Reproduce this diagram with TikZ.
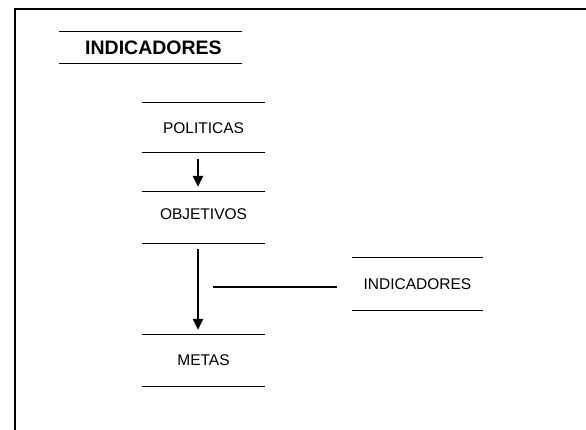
\documentclass[tikz,border=0pt]{standalone}
\usepackage{fontspec}
\setmainfont{Liberation Sans}
\usetikzlibrary{arrows.meta, positioning, calc}

\begin{document}
\begin{tikzpicture}[x=1pt, y=-1pt,
  lbl/.style={minimum width=123pt, minimum height=50pt, inner sep=0pt,
              font=\fontsize{15.5}{17}\selectfont},
  ttl/.style={lbl, minimum width=183pt, minimum height=31pt,
              font=\fontsize{19.5}{21}\selectfont\bfseries},
  rule/.style={black, line width=1.2pt},
  arr/.style={-{Triangle[length=11pt, width=10pt]}, black, line width=2.6pt}
]
\useasboundingbox (0,0) rectangle (586,430);

% frame
\draw[black, line width=2.6pt] (586,9) -- (15,9) -- (15,430);

\node[ttl] (head) at (150.5,47.5) {\hspace*{6pt}INDICADORES};
\node[lbl] (pol) at (203.5,127.7) {POLITICAS};
\node[lbl, minimum height=51pt] (obj) at (203.5,217.5) {\raisebox{7pt}{OBJETIVOS}};
\node[lbl, minimum height=51pt] (met) at (203.5,360.5) {METAS};
\node[lbl, minimum width=131pt, minimum height=52pt] (ind) at (417.5,284) {INDICADORES};

\foreach \n in {head, pol, obj, met, ind} {
  \draw[rule] (\n.north west) -- (\n.north east);
  \draw[rule] (\n.south west) -- (\n.south east);
}

\draw[arr, shorten <=6pt, shorten >=5pt] ([xshift=-5.5pt]pol.south) -- ([xshift=-5.5pt]obj.north);
\draw[arr, shorten <=6pt, shorten >=5pt] ([xshift=-5.5pt]obj.south) -- ([xshift=-5.5pt]met.north);

\coordinate (tap) at (213,287);
\draw[rule, shorten >=15pt] (tap) -- (tap -| ind.west);
\end{tikzpicture}
\end{document}
